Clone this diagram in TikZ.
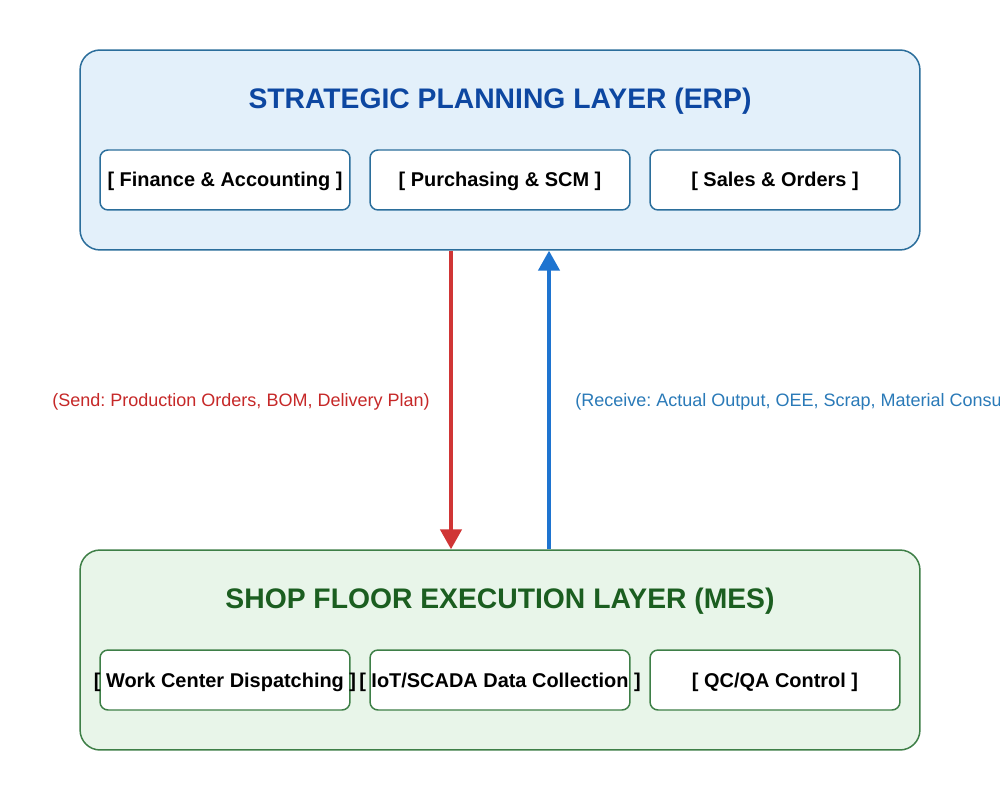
\documentclass[tikz,border=0pt]{standalone}
\usepackage{fontspec}
\setmainfont{Liberation Sans}
\usetikzlibrary{arrows.meta}
\frenchspacing
\definecolor{erpfill}{HTML}{E3F0FA}
\definecolor{erpline}{HTML}{2B6E9B}
\definecolor{erptitle}{HTML}{0D47A1}
\definecolor{mesfill}{HTML}{E8F5E9}
\definecolor{mesline}{HTML}{3E7F47}
\definecolor{mestitle}{HTML}{1B5E20}
\definecolor{sendred}{HTML}{D03535}
\definecolor{sendtext}{HTML}{C62828}
\definecolor{recvblue}{HTML}{1E74D0}
\definecolor{recvtext}{HTML}{2A7AB8}
\tikzset{
  layerbox/.style={draw, line width=0.85pt, rounded corners=0.4cm, minimum width=16.8cm, minimum height=4cm, inner sep=0pt},
  modbox/.style={draw, fill=white, line width=0.85pt, rounded corners=0.16cm, minimum width=5cm, minimum height=1.2cm, inner sep=0pt},
  titletext/.style={font=\fontsize{16.1}{19}\selectfont\bfseries, inner sep=0pt},
  modtext/.style={font=\fontsize{11.35}{14}\selectfont\bfseries, inner sep=0pt, text=black, anchor=base},
  flowlabel/.style={font=\fontsize{10.25}{12}\selectfont, inner sep=0pt},
  flowarrow/.style={line width=2.2pt, -{Triangle[length=11.3pt,width=12pt]}}
}
\begin{document}
\begin{tikzpicture}[x=0.02cm,y=-0.02cm]
\useasboundingbox[fill=white] (0,0) rectangle (1000,800);
% ERP layer
\node[layerbox, draw=erpline, fill=erpfill] (erp) at (500,150) {};
\node[titletext, text=erptitle] (erpt) at (500,101.5) {STRATEGIC PLANNING LAYER (ERP)};
\node[modbox, draw=erpline] (e1) at (225,180) {};
\node[modbox, draw=erpline, minimum width=5.2cm] (e2) at (500,180) {};
\node[modbox, draw=erpline] (e3) at (775,180) {};
\node[modtext] (e1t) at ([yshift=-0.14cm]e1.center) {[ Finance \& Accounting ]};
\node[modtext] (e2t) at ([yshift=-0.14cm]e2.center) {[ Purchasing \& SCM ]};
\node[modtext] (e3t) at ([yshift=-0.14cm]e3.center) {[ Sales \& Orders ]};
% MES layer
\node[layerbox, draw=mesline, fill=mesfill] (mes) at (500,650) {};
\node[titletext, text=mestitle] (mest) at (500,601.5) {SHOP FLOOR EXECUTION LAYER (MES)};
\node[modbox, draw=mesline] (m1) at (225,680) {};
\node[modbox, draw=mesline, minimum width=5.2cm] (m2) at (500,680) {};
\node[modbox, draw=mesline] (m3) at (775,680) {};
\node[modtext] (m1t) at ([yshift=-0.14cm]m1.center) {[ Work Center Dispatching ]};
\node[modtext] (m2t) at ([yshift=-0.14cm]m2.center) {[ IoT/SCADA Data Collection ]};
\node[modtext] (m3t) at ([yshift=-0.14cm]m3.center) {[ QC/QA Control ]};
% flows
\coordinate (redx) at (451,0);
\coordinate (bluex) at (549,0);
\draw[flowarrow, draw=sendred, fill=sendred] (erp.south -| redx) -- (mes.north -| redx);
\draw[flowarrow, draw=recvblue, fill=recvblue] (mes.north -| bluex) -- (erp.south -| bluex);
\node[flowlabel, text=sendtext, anchor=east] (sendl) at (430,402) {(Send: Production Orders, BOM, Delivery Plan)};
\node[flowlabel, text=recvtext, anchor=west] (recvl) at (575,402) {(Receive: Actual Output, OEE, Scrap, Material Consumption)};
\end{tikzpicture}
\end{document}
